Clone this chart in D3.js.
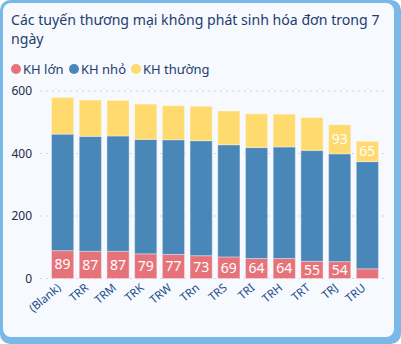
<!DOCTYPE html>
<html><head><meta charset="utf-8">
<script src="https://cdn.jsdelivr.net/npm/d3@7"></script>
<style>html,body{margin:0;padding:0;background:#fff;}svg{display:block;}</style>
</head><body>
<script>
const categories = ["(Blank)","TRR","TRM","TRK","TRW","TRn","TRS","TRI","TRH","TRT","TRJ","TRU"];
const khLon    = [89, 87, 87, 79, 77, 73, 69, 64, 64, 55, 54, 31];
const khNho    = [373, 368, 369, 366, 367, 368, 359, 355, 357, 355, 345, 343];
const khThuong = [117, 116, 114, 113, 109, 110, 108, 108, 105, 105, 93, 65];
const seriesNames = ["KH lớn","KH nhỏ","KH thường"];
const yTicks = [0, 200, 400, 600];

const W = 401, H = 344;
const colors = ["#E6737A", "#4A87B9", "#FFDA6E"];
const font = "'Segoe UI','Noto Sans',sans-serif";
const navy = "#1E3D6E";

const svg = d3.select("body").append("svg").attr("width", W).attr("height", H);
svg.append("rect").attr("x",0).attr("y",0).attr("width",W).attr("height",H).attr("rx",10).attr("fill","#7AB8E8");
svg.append("rect").attr("x",3).attr("y",3).attr("width",391).attr("height",334).attr("rx",8).attr("fill","#F6F9FE");

// title, fitted to the reference width
const title = svg.append("text").attr("font-family", font).attr("font-size", 16).attr("fill", navy);
const t1 = title.append("tspan").attr("x", 11).attr("y", 25).text("Các tuyến thương mại không phát sinh hóa đơn trong 7");
const tw = t1.node().getComputedTextLength();
title.attr("font-size", Math.min(16.5, 16 * 369 / tw));
title.append("tspan").attr("x", 11).attr("y", 44).text("ngày");

// legend
const legend = svg.append("g").attr("font-family", font).attr("font-size", 13).attr("fill", navy);
const lxs = [16, 74, 136];
seriesNames.forEach((n, i) => {
  legend.append("circle").attr("cx", lxs[i]).attr("cy", 69).attr("r", 5).attr("fill", colors[i]);
  legend.append("text").attr("x", lxs[i] + 7).attr("y", 73.5).text(n);
});

const x = d3.scaleBand().domain(categories).range([46, 384]).paddingInner(0.2).paddingOuter(0.2);
const y = d3.scaleLinear().domain([0, 600]).range([278.5, 91]);

// grid
svg.append("g").selectAll("line").data(yTicks).join("line")
  .attr("x1", 40).attr("x2", 387).attr("y1", d => y(d)).attr("y2", d => y(d))
  .attr("stroke", "#D3D6DC").attr("stroke-width", 1).attr("stroke-dasharray", "2,4");

// y axis
const yAxis = svg.append("g").attr("transform", "translate(32,0)")
  .call(d3.axisLeft(y).tickValues(yTicks).tickSize(0).tickPadding(0));
yAxis.select(".domain").remove();
yAxis.selectAll("text").attr("font-family", font).attr("font-size", 12).attr("fill", "#1B2B48");

// stacks
const rows = categories.map((c, i) => ({cat: c, lon: khLon[i], nho: khNho[i], thuong: khThuong[i]}));
const stack = d3.stack().keys(["lon","nho","thuong"])(rows);
const g = svg.append("g");
stack.forEach((s, si) => {
  g.append("g").selectAll("rect").data(s).join("rect")
    .attr("x", d => x(d.data.cat)).attr("width", x.bandwidth())
    .attr("y", d => y(d[1])).attr("height", d => y(d[0]) - y(d[1]))
    .attr("fill", colors[si])
    .attr("stroke", "rgba(255,255,255,0.35)").attr("stroke-width", 1);
});

// labels
const labels = svg.append("g").attr("font-family", font).attr("font-size", 14).attr("fill", "#fff").attr("text-anchor", "middle");
stack[0].forEach(d => {
  const v = d[1] - d[0];
  if (v >= 40) labels.append("text").attr("x", x(d.data.cat) + x.bandwidth()/2).attr("y", (y(d[0]) + y(d[1]))/2).attr("dy", "0.35em").text(v);
});
stack[2].forEach(d => {
  const v = d[1] - d[0];
  if (v < 100) labels.append("text").attr("x", x(d.data.cat) + x.bandwidth()/2).attr("y", (y(d[0]) + y(d[1]))/2).attr("dy", "0.35em").text(v);
});

// x axis labels
const xl = svg.append("g").attr("font-family", font).attr("font-size", 11.5).attr("fill", "#1D4E8C");
categories.forEach(c => {
  const cx = x(c) + x.bandwidth()/2 - 1;
  xl.append("text").attr("text-anchor", "end")
    .attr("transform", `translate(${cx},${289}) rotate(-40)`).text(c);
});
</script>
</body></html>
